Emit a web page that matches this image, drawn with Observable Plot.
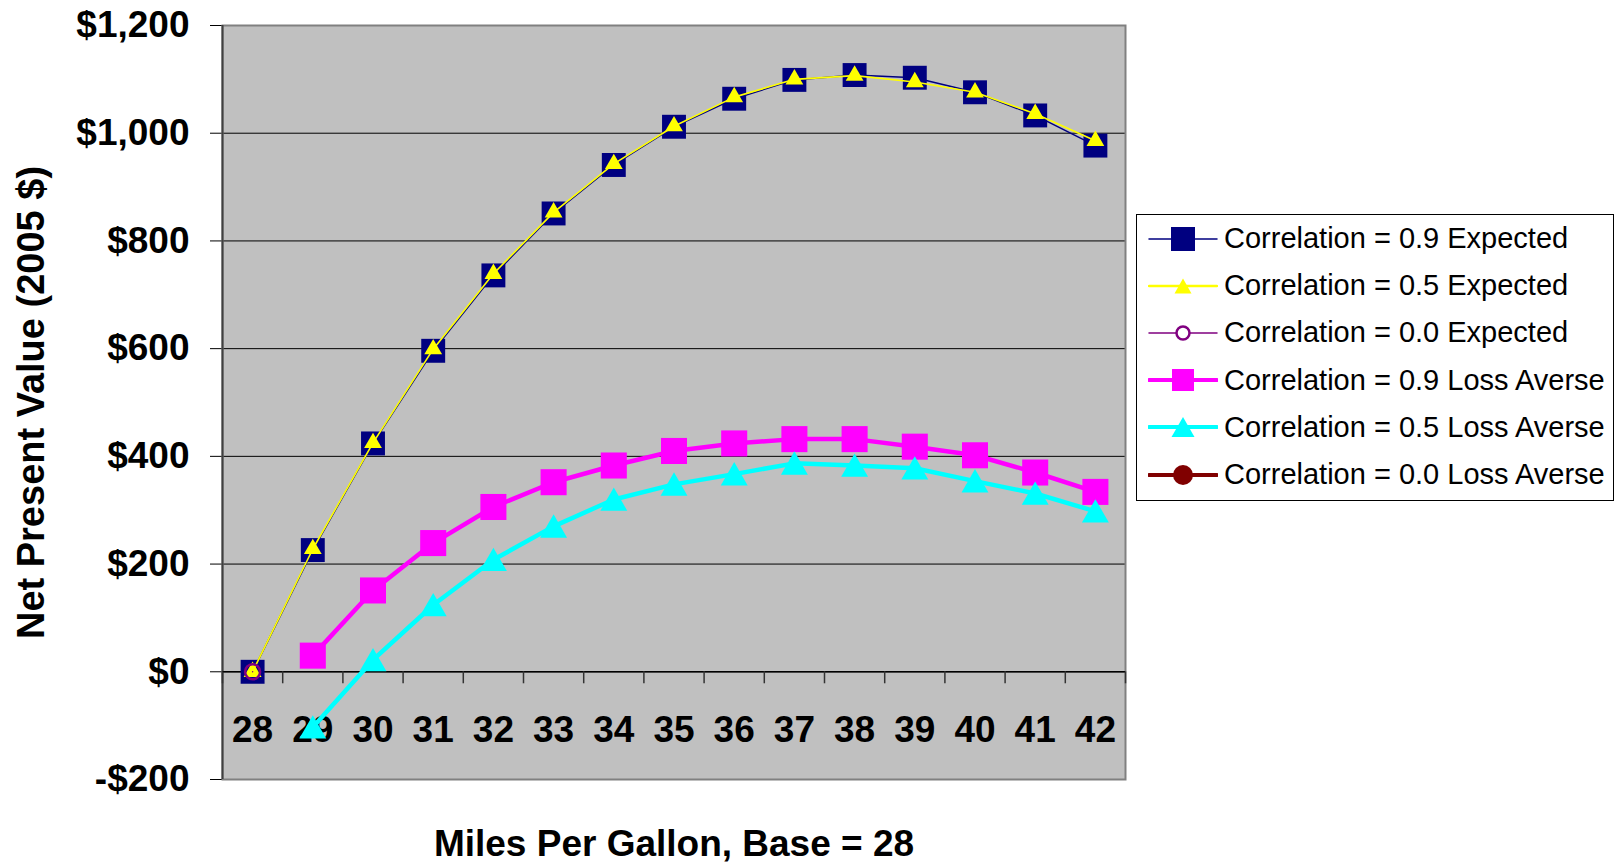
<!DOCTYPE html>
<html><head><meta charset="utf-8">
<script src="https://cdn.jsdelivr.net/npm/d3@7"></script>
<script src="https://cdn.jsdelivr.net/npm/@observablehq/plot@0.6"></script>
<style>
html,body{margin:0;padding:0;background:#fff;}
#wrap{position:relative;width:1614px;height:864px;font-family:"Liberation Sans",Arial,sans-serif;}
#legend{position:absolute;left:1136px;top:214px;width:476px;height:285px;border:1px solid #000;background:#fff;padding-top:0px;}
.row{display:flex;align-items:center;height:47.2px;font-size:29px;color:#000;white-space:nowrap;}
.row svg{margin-left:11px;margin-right:6px;flex:none;}
</style></head><body><div id="wrap"></div>
<script>
// ---- data ----
const mpg = [28, 29, 30, 31, 32, 33, 34, 35, 36, 37, 38, 39, 40, 41, 42];
const yTicks = [-200, 0, 200, 400, 600, 800, 1000, 1200];
const seriesNames = [
  "Correlation = 0.9 Expected",
  "Correlation = 0.5 Expected",
  "Correlation = 0.0 Expected",
  "Correlation = 0.9 Loss Averse",
  "Correlation = 0.5 Loss Averse",
  "Correlation = 0.0 Loss Averse"
];
const corr09Expected   = [0, 226, 424, 596, 736, 851, 941, 1012, 1064, 1099, 1108, 1103, 1076, 1033, 977];
const corr05Expected   = [0, 228, 425, 599, 739, 853, 943, 1013, 1067, 1100, 1107, 1095, 1076, 1036, 986];
const corr00Expected   = [0, null, null, null, null, null, null, null, null, null, null, null, null, null, null];
const corr09LossAverse = [null, 30, 151, 239, 306, 352, 383, 410, 424, 432, 432, 418, 402, 370, 334];
const corr05LossAverse = [null, -103, 22, 124, 208, 270, 320, 348, 367, 387, 383, 378, 354, 331, 298];
const corr00LossAverse = [null, null, null, null, null, null, null, null, null, null, null, null, null, null, null];
const xTitle = "Miles Per Gallon, Base = 28";
const yTitle = "Net Present Value (2005 $)";

// ---- styles ----
const seriesValues = [corr09Expected, corr05Expected, corr00Expected, corr09LossAverse, corr05LossAverse, corr00LossAverse];
const styles = [
  {color: "#000080", lw: 1.5, symbol: "square", r: 13.5, fill: "#000080", stroke: "none", sw: 0, dy: 0, lg: {shape: "square", s: 24, lw: 1.5}},
  {color: "#FFFF00", lw: 1.6, symbol: "triangle", r: 6.6, fill: "#FFFF00", stroke: "none", sw: 0, dy: 0, lg: {shape: "triangle", s: 17, lw: 2.5}},
  {color: "#800080", lw: 1.5, symbol: "circle", r: 7.5, fill: "none", stroke: "#800080", sw: 2.5, dy: 0, lg: {shape: "ring", s: 15, lw: 1.5}},
  {color: "#FF00FF", lw: 4.5, symbol: "square", r: 14.7, fill: "#FF00FF", stroke: "none", sw: 0, dy: 0, lg: {shape: "square", s: 22, lw: 4}},
  {color: "#00FFFF", lw: 4.5, symbol: "triangle", r: 10, fill: "#00FFFF", stroke: "none", sw: 0, dy: 3.5, lg: {shape: "triangle", s: 23, lw: 4}},
  {color: "#800000", lw: 4.5, symbol: "circle", r: 10, fill: "#800000", stroke: "none", sw: 0, dy: 0, lg: {shape: "dot", s: 20, lw: 4}}
];

const xDomain = [mpg[0] - 0.5, mpg[mpg.length - 1] + 0.5];
const boundaries = d3.range(mpg.length + 1).map(i => xDomain[0] + i);
const fmt = d => (d < 0 ? "-" : "") + "$" + d3.format(",")(Math.abs(d));
const FONT = "Liberation Sans, Arial, Helvetica, sans-serif";

const seriesMarks = [];
seriesNames.forEach((name, k) => {
  const st = styles[k];
  const data = mpg.map((m, i) => ({mpg: m, value: seriesValues[k][i], name}))
                  .filter(d => d.value != null);
  if (!data.length) return;
  seriesMarks.push(Plot.line(data, {x: "mpg", y: "value", stroke: st.color, strokeWidth: st.lw}));
  seriesMarks.push(Plot.dot(data, {x: "mpg", y: "value", symbol: st.symbol, r: st.r, fill: st.fill,
    stroke: st.stroke, strokeWidth: st.sw, dy: st.dy}));
});

const chart = Plot.plot({
  width: 1614,
  height: 864,
  marginLeft: 222,
  marginRight: 489,
  marginTop: 25,
  marginBottom: 85,
  style: {fontFamily: FONT, fontSize: "37px", fontWeight: "bold", color: "#000", background: "#fff", overflow: "visible"},
  x: {domain: xDomain, axis: null},
  y: {domain: [yTicks[0], yTicks[yTicks.length - 1]], ticks: yTicks, tickFormat: fmt, tickSize: 12, tickPadding: 21, label: null},
  marks: [
    Plot.frame({fill: "#C0C0C0"}),
    Plot.ruleY(yTicks, {stroke: "#000", strokeWidth: 1}),
    Plot.frame({stroke: "#808080", strokeWidth: 2}),
    Plot.ruleX([xDomain[0]], {stroke: "#404040", strokeWidth: 2}),
    Plot.ruleY([0], {stroke: "#000", strokeWidth: 1.5}),
    Plot.ruleX(boundaries, {x: d => d, y1: 0, y2: 0, insetBottom: -12, stroke: "#333", strokeWidth: 1.5}),
    Plot.text(mpg, {x: d => d, y: 0, dy: 58, text: d => String(d), fontSize: 37, fontWeight: "bold", fill: "#000", fontFamily: FONT}),
    Plot.text([xTitle], {frameAnchor: "bottom", textAnchor: "middle", lineAnchor: "middle", dy: 65, text: d => d, fontSize: 37, fontWeight: "bold", fill: "#000", fontFamily: FONT}),
    Plot.text([yTitle], {frameAnchor: "left", textAnchor: "middle", lineAnchor: "middle", dx: -191, rotate: -90, text: d => d, fontSize: 38, fontWeight: "bold", fill: "#000", fontFamily: FONT}),
    ...seriesMarks
  ]
});

const wrap = document.getElementById("wrap");
wrap.appendChild(chart);

// ---- legend ----
const legend = document.createElement("div");
legend.id = "legend";
seriesNames.forEach((name, k) => {
  const st = styles[k];
  const row = document.createElement("div");
  row.className = "row";
  const cx = 35, cy = 15, s = st.lg.s;
  let marker = "";
  if (st.lg.shape === "square") {
    marker = `<rect x="${cx - s / 2}" y="${cy - s / 2}" width="${s}" height="${s}" fill="${st.color}"/>`;
  } else if (st.lg.shape === "triangle") {
    const h = s * 0.87;
    marker = `<path d="M${cx},${cy - h / 2}L${cx + s / 2},${cy + h / 2}L${cx - s / 2},${cy + h / 2}Z" fill="${st.color}"/>`;
  } else if (st.lg.shape === "ring") {
    marker = `<circle cx="${cx}" cy="${cy}" r="${s / 2 - 1}" fill="#fff" stroke="${st.color}" stroke-width="2.5"/>`;
  } else {
    marker = `<circle cx="${cx}" cy="${cy}" r="${s / 2}" fill="${st.color}"/>`;
  }
  row.innerHTML = `<svg width="70" height="30"><line x1="1" x2="69" y1="${cy}" y2="${cy}" stroke="${st.color}" stroke-width="${st.lg.lw}" stroke-linecap="round"/>${marker}</svg><span>${name}</span>`;
  legend.appendChild(row);
});
wrap.appendChild(legend);
</script>
</body></html>
